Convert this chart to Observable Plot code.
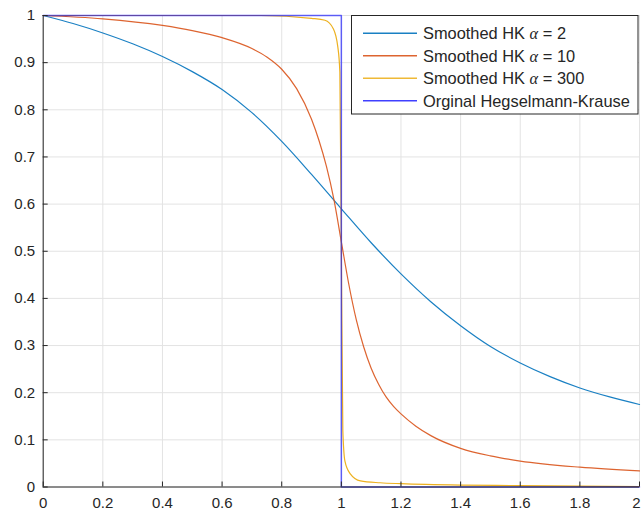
<!DOCTYPE html>
<html>
<head>
<meta charset="utf-8">
<script src="https://cdn.jsdelivr.net/npm/d3@7"></script>
<script src="https://cdn.jsdelivr.net/npm/@observablehq/plot@0.6"></script>
<style>
  html, body { margin: 0; padding: 0; background: #fff; }
  #chart { width: 641px; height: 512px; }
</style>
</head>
<body>
<div id="chart"></div>
<script>
// ---- data ----
const seriesNames = ["Smoothed HK α = 2", "Smoothed HK α = 10", "Smoothed HK α = 300", "Orginal Hegselmann-Krause"];
const seriesColors = ["#0072BD", "#D95319", "#EDB120", "#0000FF"];

const alpha2X = [0, 0.1, 0.2, 0.3, 0.4, 0.5, 0.6, 0.7, 0.8, 0.9, 1.0, 1.1, 1.2, 1.3, 1.4, 1.5, 1.6, 1.7, 1.8, 1.9, 2.0];
const alpha2Y = [1, 0.983, 0.963, 0.94, 0.913, 0.881, 0.843, 0.794, 0.733, 0.663, 0.59, 0.518, 0.452, 0.393, 0.342, 0.298, 0.263, 0.234, 0.21, 0.191, 0.175];

const alpha10X = [0, 0.2, 0.4, 0.5, 0.6, 0.7, 0.75, 0.8, 0.85, 0.9, 0.925, 0.95, 0.975, 1.0, 1.025, 1.05, 1.075, 1.1, 1.125, 1.15, 1.175, 1.2, 1.25, 1.3, 1.4, 1.5, 1.6, 1.8, 2.0];
const alpha10Y = [1, 0.993, 0.979, 0.968, 0.953, 0.93, 0.912, 0.886, 0.845, 0.78, 0.735, 0.68, 0.61, 0.52, 0.43, 0.355, 0.297, 0.252, 0.218, 0.191, 0.171, 0.155, 0.129, 0.109, 0.082, 0.066, 0.055, 0.042, 0.034];

const alpha300X = [0, 0.73, 0.9, 0.945, 0.973, 0.988, 0.995, 1.0, 1.005, 1.012, 1.03, 1.064, 1.13, 1.2, 1.4, 1.6, 2.0];
const alpha300Y = [1, 1.0, 0.994, 0.99, 0.972, 0.934, 0.88, 0.5, 0.12, 0.055, 0.028, 0.013, 0.009, 0.007, 0.004, 0.003, 0.001];

const hkX = [0, 1, 1, 2];
const hkY = [1, 1, 0, 0];

const xTicks = [0, 0.2, 0.4, 0.6, 0.8, 1, 1.2, 1.4, 1.6, 1.8, 2];
const xTickLabels = ["0", "0.2", "0.4", "0.6", "0.8", "1", "1.2", "1.4", "1.6", "1.8", "2"];
const yTicks = [0, 0.1, 0.2, 0.3, 0.4, 0.5, 0.6, 0.7, 0.8, 0.9, 1];
const yTickLabels = ["0", "0.1", "0.2", "0.3", "0.4", "0.5", "0.6", "0.7", "0.8", "0.9", "1"];

// ---- build tables ----
const toRows = (xs, ys, s) => xs.map((x, i) => ({x, y: ys[i], s}));
const s2 = toRows(alpha2X, alpha2Y, seriesNames[0]);
const s10 = toRows(alpha10X, alpha10Y, seriesNames[1]);
const s300 = toRows(alpha300X, alpha300Y, seriesNames[2]);
const hk = toRows(hkX, hkY, seriesNames[3]);

const xFmt = d => xTickLabels[xTicks.findIndex(t => Math.abs(t - d) < 1e-9)];
const yFmt = d => yTickLabels[yTicks.findIndex(t => Math.abs(t - d) < 1e-9)];

const axisColor = "#262626";
const gridColor = "#e3e3e3";
const font = "'Liberation Sans', Arial, Helvetica, sans-serif";

const chart = Plot.plot({
  width: 641,
  height: 512,
  marginLeft: 42.7,
  marginRight: 2,
  marginTop: 15,
  marginBottom: 25.5,
  style: {fontFamily: font, fontSize: "15px", background: "#fff", color: axisColor},
  x: {domain: [0, 2]},
  y: {domain: [0, 1]},
  marks: [
    Plot.gridX(xTicks, {stroke: gridColor, strokeOpacity: 1}),
    Plot.gridY(yTicks, {stroke: gridColor, strokeOpacity: 1}),
    Plot.line(s2, {x: "x", y: "y", stroke: seriesColors[0], strokeWidth: 1.2, strokeOpacity: 0.9, curve: "monotone-x"}),
    Plot.line(s10, {x: "x", y: "y", stroke: seriesColors[1], strokeWidth: 1.2, strokeOpacity: 0.9, curve: "monotone-x"}),
    Plot.line(s300, {x: "x", y: "y", stroke: seriesColors[2], strokeWidth: 1.2, curve: "monotone-x"}),
    Plot.line(hk, {x: "x", y: "y", stroke: seriesColors[3], strokeWidth: 1.5, strokeOpacity: 0.6}),
    Plot.ruleX([0], {stroke: axisColor}),
    Plot.ruleY([0], {stroke: axisColor}),
    Plot.axisY(yTicks, {tickSize: 0, tickPadding: 8, tickFormat: yFmt, label: null, fill: axisColor}),
    Plot.axisY(yTicks, {tickSize: 5, dx: 5, tickFormat: () => "", label: null, stroke: axisColor}),
    Plot.axisX(xTicks, {tickSize: 0, tickPadding: 10, tickFormat: xFmt, label: null, fill: axisColor}),
    Plot.axisX(xTicks, {tickSize: 5, dy: -5, tickFormat: () => "", label: null, stroke: axisColor})
  ]
});

document.getElementById("chart").appendChild(chart);

// keep the last x tick label ("2") inside the right edge
d3.select(chart).selectAll("text")
  .filter(function () { return this.textContent === xTickLabels[xTickLabels.length - 1]; })
  .attr("text-anchor", "end").attr("dx", 1);

// ---- legend (inside the axes, top-right) ----
const svg = d3.select(chart);
const lg = svg.append("g")
  .attr("font-family", font).attr("font-size", 16.4).attr("text-anchor", "start");
lg.append("rect")
  .attr("x", 351.5).attr("y", 15.5).attr("width", 286.5).attr("height", 98.5)
  .style("fill", "#fff").style("stroke", axisColor).style("stroke-width", "1px");
const rowY = [33.3, 55.7, 78.3, 100.7];
seriesNames.forEach((name, i) => {
  lg.append("path")
    .attr("d", `M363,${rowY[i]}H417`)
    .style("stroke", seriesColors[i]).style("stroke-width", "1.4px").style("fill", "none")
    .style("stroke-opacity", i === 3 ? 0.75 : 0.9);
  const t = lg.append("text").attr("x", 423).attr("y", rowY[i]).attr("dy", "0.36em")
    .style("fill", axisColor).attr("text-anchor", "start");
  const m = name.match(/^(.*?)(α)(.*)$/);
  if (m) {
    t.append("tspan").text(m[1]);
    t.append("tspan").attr("font-family", "'Liberation Serif', 'DejaVu Serif', serif").attr("font-style", "italic").text(m[2]);
    t.append("tspan").text(m[3]);
  } else {
    t.text(name);
  }
});
</script>
</body>
</html>
